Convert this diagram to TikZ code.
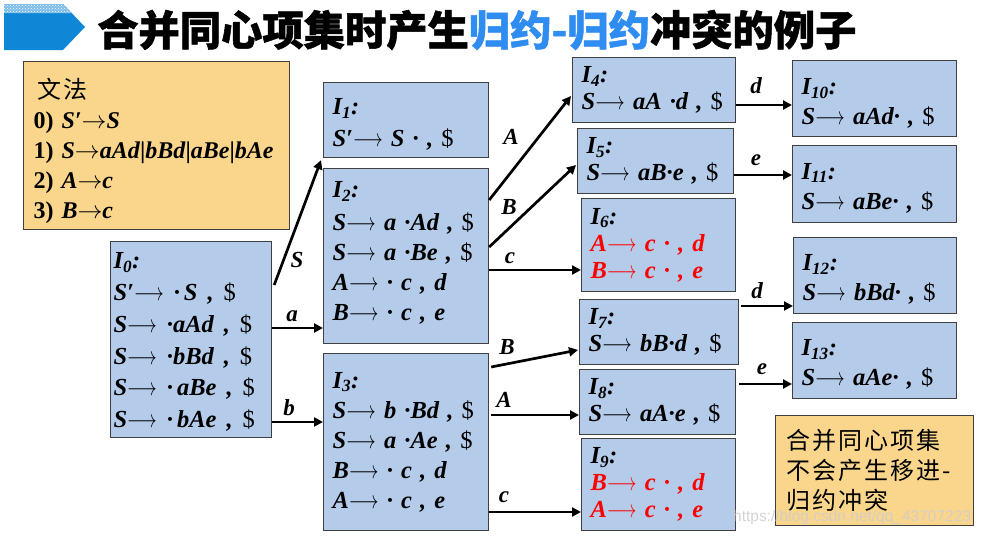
\documentclass[tikz,border=0pt]{standalone}
\usepackage{fontspec}
\setmainfont{Liberation Serif}
\newfontfamily\cjk{Noto Sans CJK SC}
\newfontfamily\cjkt[BoldFeatures={FakeBold=1.2}]{Noto Sans CJK SC}
\newfontfamily\cjkls[LetterSpace=8]{Noto Sans CJK SC}
\newfontfamily\wmfont{Liberation Sans}
\usetikzlibrary{arrows.meta,patterns,calc}
\definecolor{boxblue}{RGB}{180,203,234}
\definecolor{boxedge}{RGB}{64,64,64}
\definecolor{noteor}{RGB}{250,214,140}
\definecolor{titleblue}{RGB}{47,140,240}
\definecolor{chevblue}{RGB}{16,134,214}
\definecolor{wmgray}{RGB}{205,205,205}
\newcommand\lra{\scalebox{0.74}[1]{$\longrightarrow$}}
\newcommand\sra{\ensuremath{\rightarrow}}
\newcommand\dol{{\normalfont\$}}
\newcommand\Isub[1]{I\textsubscript{#1}:}
\newcommand\gi[1]{\textit{#1}}
\newcommand\toppad[1]{\rule{0pt}{#1}}
\newcommand\wg{\hspace{10pt}}
\begin{document}
\begin{tikzpicture}[x=1pt,y=-1pt,
  ibox/.style={draw=boxedge, line width=1.2pt, fill=boxblue, anchor=north west,
    inner xsep=9pt, inner ysep=0pt, align=left,
    font=\fontsize{24.5}{30}\selectfont\bfseries\itshape},
  sbox/.style={ibox, font=\fontsize{24.5}{27}\selectfont\bfseries\itshape},
  gbox/.style={draw=boxedge, line width=1.2pt, fill=noteor, anchor=north west,
    inner ysep=0pt, align=left},
  conn/.style={line width=2.7pt, -{Triangle[length=9pt,width=9pt]}},
  lbl/.style={font=\fontsize{23}{23}\selectfont\bfseries\itshape, inner sep=0pt}]
\useasboundingbox (0,0) rectangle (983,538);
% title banner
\fill[chevblue] (4,4) -- (63,4) -- (85,27) -- (63,50) -- (4,50) -- cycle;
\fill[chevblue!55!white] (4,4) -- (63,4) -- (72,13) -- (4,13) -- cycle;
\fill[pattern=crosshatch dots, pattern color=white] (4,4) -- (63,4) -- (72,13) -- (4,13) -- cycle;
\node[anchor=west, inner sep=0pt, font=\cjkt\bfseries\fontsize{41.3}{41.3}\selectfont] (title) at (97,30)
  {合并同心项集时产生\textcolor{titleblue}{归约-归约}冲突的例子};
% grammar
\node[gbox, minimum width=266pt, minimum height=168pt, text width=246pt, inner xsep=10pt,
  font=\fontsize{24}{30}\selectfont\bfseries] (gram) at (23,61)
  {\toppad{31pt}\hspace*{4pt}{\cjkls\mdseries 文法}\\
   0)~\gi{S′\sra S}\\
   1)~\gi{S\sra aAd}|\gi{bBd}|\gi{aBe}|\gi{bAe}\\
   2)~\gi{A\sra c}\\
   3)~\gi{B\sra c}};
% item sets
\node[ibox, minimum width=161pt, minimum height=196pt, inner xsep=3pt, text width=155pt,
  font=\fontsize{24.5}{31.7}\selectfont\bfseries\itshape] (I0) at (110,241)
  {\toppad{21pt}\Isub{0}\\ S′\lra{}\wg·\,S\wg,\wg\dol\\ S\lra{}\wg·aAd\wg,\wg\dol\\ S\lra{}\wg·bBd\wg,\wg\dol\\ S\lra{}\wg·\,aBe\wg,\wg\dol\\ S\lra{}\wg·\,bAe\wg,\wg\dol};
\node[ibox, minimum width=165pt, minimum height=75pt, text width=147pt,
  font=\fontsize{24.5}{32}\selectfont\bfseries\itshape] (I1) at (323,82)
  {\toppad{25pt}\Isub{1}\\ S′\lra{}~S~·~,~\dol};
\node[ibox, minimum width=165pt, minimum height=175pt, text width=147pt] (I2) at (323,168)
  {\Isub{2}\\[3pt] S\lra{}~a~·Ad~,~\dol\\ S\lra{}~a~·Be~,~\dol\\ A\lra{}~·~c~,~d\\ B\lra{}~·~c~,~e\rule[-10pt]{0pt}{10pt}};
\node[ibox, minimum width=165pt, minimum height=177pt, text width=147pt] (I3) at (323,353)
  {\Isub{3}\\ S\lra{}~b~·Bd~,~\dol\\ S\lra{}~a~·Ae~,~\dol\\ B\lra{}~·~c~,~d\\ A\lra{}~·~c~,~e};
\node[sbox, minimum width=163pt, minimum height=65pt, text width=145pt] (I4) at (572,57)
  {\Isub{4}\\ S\lra{}~aA~·d~,~\dol};
\node[sbox, minimum width=156pt, minimum height=65pt, text width=138pt] (I5) at (577,128)
  {\Isub{5}\\ S\lra{}~aB·e~,~\dol};
\node[sbox, minimum width=154pt, minimum height=93pt, text width=136pt] (I6) at (581,198)
  {\Isub{6}\\ \textcolor{red}{A\lra{}~c~·~,~d}\\ \textcolor{red}{B\lra{}~c~·~,~e}};
\node[sbox, minimum width=159pt, minimum height=65pt, text width=141pt] (I7) at (579,299)
  {\Isub{7}\\ S\lra{}~bB·d~,~\dol};
\node[sbox, minimum width=156pt, minimum height=65pt, text width=138pt] (I8) at (579,369)
  {\Isub{8}\\ S\lra{}~aA·e~,~\dol};
\node[sbox, minimum width=154pt, minimum height=92pt, text width=136pt] (I9) at (581,438)
  {\Isub{9}\\ \textcolor{red}{B\lra{}~c~·~,~d}\\ \textcolor{red}{A\lra{}~c~·~,~e}};
\node[ibox, minimum width=164pt, minimum height=76pt, text width=146pt] (I10) at (792,60)
  {\toppad{26pt}\Isub{10}\\ S\lra{}~aAd·~,~\dol};
\node[ibox, minimum width=164pt, minimum height=77pt, text width=146pt] (I11) at (792,145)
  {\toppad{24pt}\Isub{11}\\ S\lra{}~aBe·~,~\dol};
\node[ibox, minimum width=163pt, minimum height=76pt, text width=145pt] (I12) at (793,237)
  {\toppad{24pt}\Isub{12}\\ S\lra{}~bBd·~,~\dol};
\node[ibox, minimum width=164pt, minimum height=76pt, text width=146pt] (I13) at (792,322)
  {\toppad{24pt}\Isub{13}\\ S\lra{}~aAe·~,~\dol};
% note
\node[gbox, minimum width=198pt, minimum height=110pt, text width=176pt, inner xsep=11pt,
  font=\cjkls\fontsize{24}{30}\selectfont] (note) at (775,415)
  {合并同心项集\\不会产生移进-\\归约冲突};
% connectors
\coordinate (pa) at ([shift={(0,87)}]I0.north east);
\coordinate (pb) at ([shift={(0,181)}]I0.north east);
\coordinate (pc2) at ([shift={(0,102)}]I2.north east);
\coordinate (pA3) at ([shift={(2,62)}]I3.north east);
\coordinate (pc3) at ([shift={(0,159)}]I3.north east);
\coordinate (pd4) at ([shift={(0,48)}]I4.north east);
\coordinate (pe5) at ([shift={(0,47)}]I5.north east);
\coordinate (pd7) at ([shift={(2,7)}]I7.north east);
\coordinate (pe8) at ([shift={(3,15)}]I8.north east);
\draw[conn] ([shift={(2,44)}]I0.north east) -- ([shift={(-2,2)}]I1.south west);
\draw[conn] (pa) -- (pa -| I2.west);
\draw[conn] (pb) -- (pb -| I3.west);
\draw[conn] ([shift={(0,32)}]I2.north east) -- ([shift={(-1,39)}]I4.north west);
\draw[conn] ([shift={(0,79)}]I2.north east) -- ([shift={(-1,37)}]I5.north west);
\draw[conn] (pc2) -- (pc2 -| I6.west);
\draw[conn] ([shift={(2,14)}]I3.north east) -- ([shift={(-1,51)}]I7.north west);
\draw[conn] (pA3) -- (pA3 -| I8.west);
\draw[conn] (pc3) -- (pc3 -| I9.west);
\draw[conn] (pd4) -- (pd4 -| I10.west);
\draw[conn] (pe5) -- (pe5 -| I11.west);
\draw[conn] (pd7) -- (pd7 -| I12.west);
\draw[conn] (pe8) -- (pe8 -| I13.west);
% connector labels
\node[lbl] (lS) at (297,260) {S};
\node[lbl] (la) at (292,316) {a};
\node[lbl] (lb) at (289,408) {b};
\node[lbl] (lA2) at (511,137) {A};
\node[lbl] (lB2) at (509,207) {B};
\node[lbl] (lc2) at (510,258) {c};
\node[lbl] (lB3) at (507,347) {B};
\node[lbl] (lA3) at (504,400) {A};
\node[lbl] (lc3) at (504,497) {c};
\node[lbl] (ld4) at (756,86) {d};
\node[lbl] (le5) at (756,160) {e};
\node[lbl] (ld7) at (757,291) {d};
\node[lbl] (le8) at (762,369) {e};
% watermark
\node[anchor=west, inner sep=0pt, font=\wmfont\fontsize{15.5}{15.5}\selectfont, text=wmgray, text opacity=0.85] (wm) at (733,517) {https://blog.csdn.net/qq\_43707223};
\end{tikzpicture}
\end{document}
